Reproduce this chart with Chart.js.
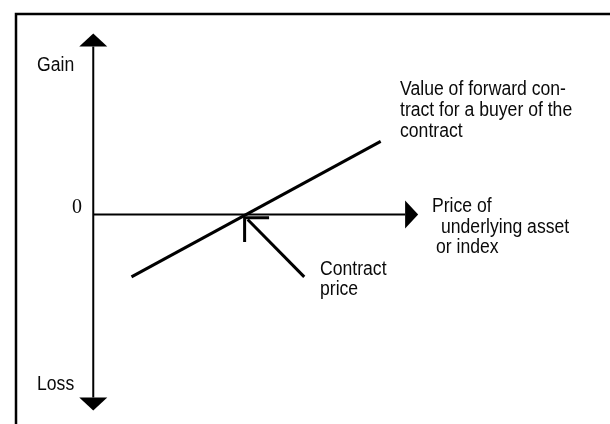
<!DOCTYPE html>
<html>
<head>
<meta charset="utf-8">
<script src="https://cdn.jsdelivr.net/npm/chart.js@4.4.1/dist/chart.umd.min.js"></script>
<style>
  html, body { margin: 0; padding: 0; background: #fff; }
  #wrap { width: 610px; height: 424px; }
</style>
</head>
<body>
<div id="wrap"><canvas id="diagram" width="610" height="424"></canvas></div>
<script>
// price units: contract price = 100, value = gain/loss of the buyer
const payoffPrice = [25, 188];
const payoffValue = [-75, 88];
const gainAxisEnd = 202;
const lossAxisEnd = -220;
const priceAxisEnd = 204;
// pointer to the contract price: shaft and the little "L" head
const shaftPrice = [101, 138];
const shaftValue = [-6, -75];
const headPrice = [115, 99, 99];
const headValue = [-4, -4, -33];

const toPoints = (xs, ys) => xs.map((x, i) => ({ x: x, y: ys[i] }));

function line(data, width) {
    return {
        data: data,
        showLine: true,
        borderColor: '#000',
        borderWidth: width,
        pointRadius: 0,
        borderCapStyle: 'butt',
        borderJoinStyle: 'miter',
        clip: false
    };
}

function drawText(ctx, text, x, y, font, squeeze) {
    ctx.save();
    ctx.translate(x, y);
    ctx.scale(squeeze || 0.88, 1);
    ctx.font = font || '20px "Liberation Sans", Arial, sans-serif';
    ctx.fillText(text, 0, 0);
    ctx.restore();
}

const decorations = {
    id: 'decorations',
    beforeDraw(chart) {
        const ctx = chart.ctx;
        ctx.save();
        ctx.fillStyle = '#fff';
        ctx.fillRect(0, 0, chart.width, chart.height);
        // frame (only top and left edges are visible)
        ctx.strokeStyle = '#000';
        ctx.lineWidth = 2.5;
        ctx.beginPath();
        ctx.moveTo(16, chart.height);
        ctx.lineTo(16, 14);
        ctx.lineTo(chart.width, 14);
        ctx.stroke();
        ctx.restore();
    },
    afterDatasetsDraw(chart) {
        const ctx = chart.ctx;
        const xs = chart.scales.x, ys = chart.scales.y;
        const x0 = xs.getPixelForValue(0), y0 = ys.getPixelForValue(0);
        ctx.save();
        ctx.fillStyle = '#000';
        // arrow heads
        let py = ys.getPixelForValue(gainAxisEnd);
        ctx.beginPath();
        ctx.moveTo(x0 - 14, py); ctx.lineTo(x0 + 14, py); ctx.lineTo(x0, py - 13);
        ctx.fill();
        py = ys.getPixelForValue(lossAxisEnd);
        ctx.beginPath();
        ctx.moveTo(x0 - 14, py); ctx.lineTo(x0 + 14, py); ctx.lineTo(x0, py + 13);
        ctx.fill();
        const px = xs.getPixelForValue(priceAxisEnd);
        ctx.beginPath();
        ctx.moveTo(px, y0 - 14); ctx.lineTo(px, y0 + 14); ctx.lineTo(px + 13, y0);
        ctx.fill();

        // labels
        ctx.fillStyle = '#0a0a0a';
        ctx.textBaseline = 'alphabetic';
        drawText(ctx, 'Gain', 37, 71);
        drawText(ctx, 'Loss', 37, 390);
        drawText(ctx, '0', 72, 213, '20px "Liberation Serif", "Times New Roman", serif', 1);
        drawText(ctx, 'Value of forward con-', 400, 95);
        drawText(ctx, 'tract for a buyer of the', 400, 116);
        drawText(ctx, 'contract', 400, 137);
        drawText(ctx, 'Price of', 432, 212);
        drawText(ctx, 'underlying asset', 441, 233);
        drawText(ctx, 'or index', 436, 253);
        drawText(ctx, 'Contract', 320, 275);
        drawText(ctx, 'price', 320, 295);
        ctx.restore();
    }
};

new Chart(document.getElementById('diagram'), {
    type: 'scatter',
    data: {
        datasets: [
            line(toPoints([0, 0], [gainAxisEnd, lossAxisEnd]), 2),
            line(toPoints([0, priceAxisEnd], [0, 0]), 2),
            line(toPoints(payoffPrice, payoffValue), 3),
            line(toPoints(shaftPrice, shaftValue), 3),
            line(toPoints(headPrice, headValue), 3)
        ]
    },
    options: {
        responsive: false,
        animation: false,
        layout: { padding: 0 },
        plugins: { legend: { display: false }, tooltip: { enabled: false } },
        scales: {
            x: { type: 'linear', min: -61, max: 338, display: false },
            y: { type: 'linear', min: -252, max: 258, display: false }
        }
    },
    plugins: [decorations]
});
</script>
</body>
</html>
